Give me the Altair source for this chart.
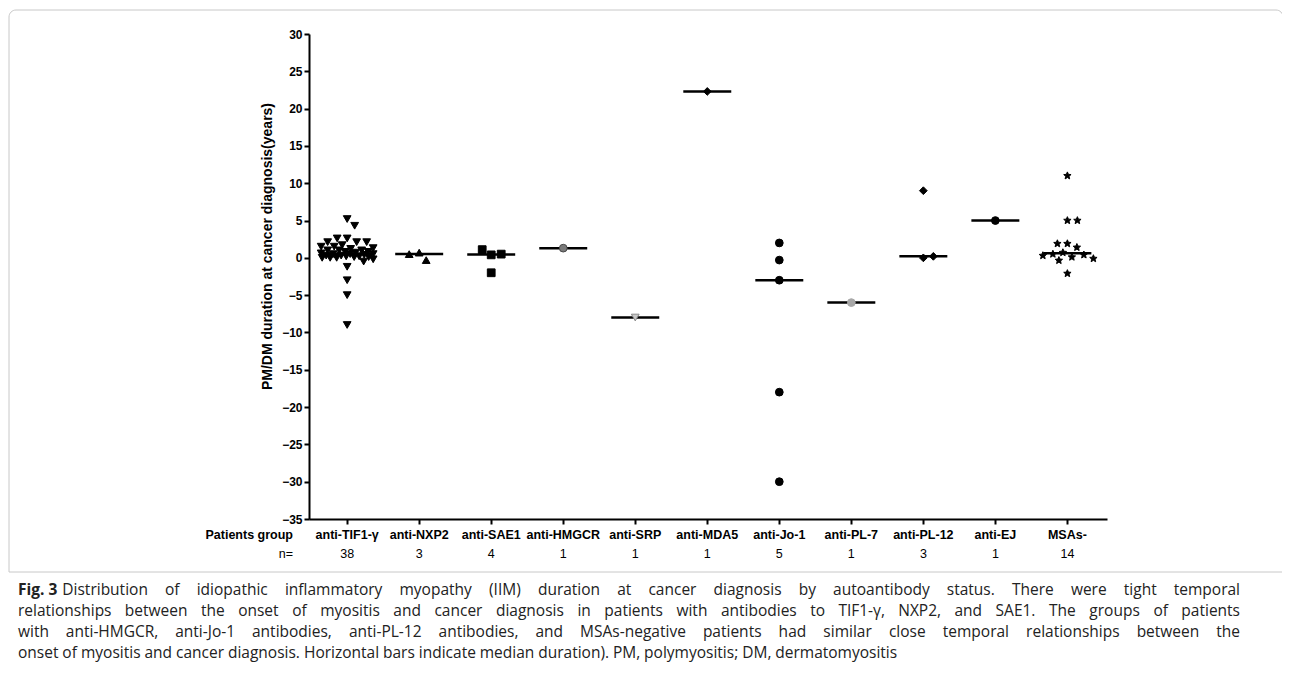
import math
import altair as alt
import numpy as np
import pandas as pd

# ---------------- data ----------------
groups = ["anti-TIF1-γ", "anti-NXP2", "anti-SAE1", "anti-HMGCR", "anti-SRP",
          "anti-MDA5", "anti-Jo-1", "anti-PL-7", "anti-PL-12", "anti-EJ", "MSAs-"]

tif1 = [5.2, 4.3, 2.6, 2.6, 2.1, 2.1, 2.1, 1.7, 1.5, 1.5, 1.3, 1.2, 1.0, 1.0, 1.0,
        0.8, 0.8, 0.7, 0.6, 0.5, 0.5, 0.5, 0.4, 0.3, 0.3, 0.2, 0.2, 0.1, 0.1,
        0.0, 0.0, 0.0, -0.2, -0.5, -1.2, -3.0, -5.0, -9.0]
nxp2 = [0.7, -0.3, 0.5]
sae1 = [0.4, 0.5, 1.1, -2.0]
hmgcr = [1.3]
srp = [-8.0]
mda5 = [22.3]
jo1 = [2.0, -0.3, -3.0, -18.0, -30.0]
pl7 = [-6.0]
pl12 = [9.0, 0.0, 0.2]
ej = [5.0]
msas = [11.0, 5.0, 5.0, 1.9, 1.9, 1.4, 0.7, 0.5, 0.4, 0.3, 0.1, -0.1, -0.35, -2.1]

series = [tif1, nxp2, sae1, hmgcr, srp, mda5, jo1, pl7, pl12, ej, msas]

y_ticks = list(range(-35, 31, 5))

caption_bold = "Fig. 3"
caption_lines = [
    "Distribution of idiopathic inflammatory myopathy (IIM) duration at cancer diagnosis by autoantibody status. There were tight temporal",
    "relationships between the onset of myositis and cancer diagnosis in patients with antibodies to TIF1-γ, NXP2, and SAE1. The groups of patients",
    "with anti-HMGCR, anti-Jo-1 antibodies, anti-PL-12 antibodies, and MSAs-negative patients had similar close temporal relationships between the",
    "onset of myositis and cancer diagnosis. Horizontal bars indicate median duration). PM, polymyositis; DM, dermatomyositis",
]

# ---------------- styles ----------------
def star_path(n=5, r_in=0.45):
    pts = []
    for k in range(2 * n):
        r = 1.0 if k % 2 == 0 else r_in
        a = -math.pi / 2 + k * math.pi / n
        pts.append((r * math.cos(a), r * math.sin(a)))
    return "M" + " L".join(f"{x:.3f},{y:.3f}" for x, y in pts) + " Z"

shapes = ["triangle-down", "triangle-up", "square", "circle", "triangle-down",
          "diamond", "circle", "circle", "diamond", "circle", star_path()]
fills = ["black", "black", "black", "#7a7a7a", "#c8c8c8", "black", "black",
         "#a8a8a8", "black", "black", "black"]
strokes = ["black", "black", "black", "#4a4a4a", "#8a8a8a", "black", "black",
           "#a8a8a8", "black", "black", "black"]
sizes = [60, 60, 60, 70, 80, 70, 75, 40, 60, 70, 95]

W, H = 798, 485
X_DOMAIN = [-0.53, 10.55]
Y_DOMAIN = [-35, 30]
px_per_unit_y = H / (Y_DOMAIN[1] - Y_DOMAIN[0])
px_per_unit_x = W / (X_DOMAIN[1] - X_DOMAIN[0])


def swarm_offsets(values, d=10.0, maxhalf=26.0):
    """Beeswarm-style horizontal spreading (pixels), computed from the data."""
    placed = []
    offs = []
    cands = np.arange(-maxhalf, maxhalf + 0.01, 0.5)
    flip = 1
    for v in values:
        y = v * px_per_unit_y
        if not placed:
            off = 0.0
        else:
            P = np.array(placed)
            dist = np.sqrt((cands[:, None] - P[None, :, 0]) ** 2 + (y - P[None, :, 1]) ** 2).min(axis=1)
            ok = cands[dist >= d]
            if len(ok):
                best = np.abs(ok).min()
                choices = ok[np.isclose(np.abs(ok), best)]
                off = float(choices.max() if flip > 0 else choices.min())
                if off != 0:
                    flip = -flip
            else:
                off = float(cands[np.argmax(dist)])
        placed.append((off, y))
        offs.append(off)
    return offs


rows = []
for i, (g, vals) in enumerate(zip(groups, series)):
    offs = swarm_offsets(vals)
    for v, o in zip(vals, offs):
        rows.append({"group": g, "idx": i, "value": v, "xpos": i + o / px_per_unit_x})
pts = pd.DataFrame(rows)

lab = pd.DataFrame({"idx": list(range(len(groups))), "label": groups,
                    "n": [str(len(s)) for s in series]})

xs = alt.Scale(domain=X_DOMAIN, nice=False, zero=False)
ys = alt.Scale(domain=Y_DOMAIN, nice=False, zero=False)

FONT = "Liberation Sans"

x_axis = alt.Axis(values=list(range(len(groups))), labels=False, title=None,
                  grid=False, tickSize=5, tickWidth=2, tickColor="black",
                  domainWidth=2, domainColor="black")
y_axis = alt.Axis(values=y_ticks, title="PM/DM duration at cancer diagnosis(years)",
                  grid=False, tickSize=5, tickWidth=2, tickColor="black",
                  domainWidth=2, domainColor="black",
                  labelFont=FONT, labelFontWeight="bold", labelFontSize=12,
                  labelColor="black", labelPadding=2,
                  titleFont=FONT, titleFontWeight="bold", titleFontSize=14,
                  titleColor="black", titleX=-42, titleY=212, titleAngle=-90,
                  titleAlign="center", titleBaseline="middle")

# ---------------- caption layout (justified lines) ----------------
CFONT = "Open Sans"
CSIZE = 15.5
CAP_L, CAP_R = -291, 931          # left / right text edges (plot coords)
CAP_Y0, CAP_DY = 561, 21          # first baseline, line step
SEP_Y = 538

_w = {' ': .26, 'a': .556, 'b': .613, 'c': .476, 'd': .613, 'e': .561, 'f': .339, 'g': .548,
      'h': .614, 'i': .253, 'j': .253, 'k': .525, 'l': .253, 'm': .93, 'n': .614, 'o': .604,
      'p': .613, 'q': .613, 'r': .408, 's': .477, 't': .353, 'u': .614, 'v': .501, 'w': .778,
      'x': .524, 'y': .502, 'z': .468, 'A': .633, 'B': .648, 'C': .631, 'D': .729, 'E': .556,
      'F': .516, 'G': .728, 'H': .738, 'I': .279, 'J': .267, 'K': .639, 'L': .537, 'M': .903,
      'N': .76, 'O': .781, 'P': .603, 'R': .609, 'S': .549, 'T': .556, 'U': .734, 'V': .598,
      'W': .903, 'Y': .557, '.': .266, ',': .244, '(': .295, ')': .295, '-': .322, ';': .266,
      'γ': .5}


def est(s):
    return sum(_w.get(ch, 0.57) for ch in s) * CSIZE


# calibrate against the natural rendered width of the unjustified last line (~879 px)
calib = 879.0 / est(caption_lines[-1])
space_w = _w[' '] * CSIZE * calib
bold_w = est(caption_bold) * calib * 1.08

word_rows = []
for li, line in enumerate(caption_lines):
    y = CAP_Y0 + li * CAP_DY
    start = CAP_L + (bold_w + space_w if li == 0 else 0)
    words = line.split(" ")
    ww = [est(w) * calib for w in words]
    last = li == len(caption_lines) - 1
    extra = 0.0 if last else (CAP_R - start - sum(ww) - space_w * (len(words) - 1)) / (len(words) - 1)
    x = start
    for k, (w, wd) in enumerate(zip(words, ww)):
        if k == 0 or last:
            word_rows.append({"t": w, "px": x, "py": y, "pos": "left"})
        elif k == len(words) - 1:
            word_rows.append({"t": w, "px": CAP_R, "py": y, "pos": "right"})
        else:
            word_rows.append({"t": w, "px": x + wd / 2, "py": y, "pos": "center"})
        x += wd + space_w + extra
cap_df = pd.DataFrame(word_rows)

# ---------------- layers ----------------
frame = alt.Chart(pd.DataFrame({"a": [0]})).mark_rect(
    fill="white", fillOpacity=0, stroke="#c8c8c8", strokeWidth=1,
    cornerRadiusTopLeft=7, cornerRadiusTopRight=7
).encode(x=alt.value(-300), x2=alt.value(974), y=alt.value(-24), y2=alt.value(SEP_Y))

med = alt.Chart(pts).transform_aggregate(
    med="median(value)", groupby=["idx"]
).transform_calculate(
    x1="datum.idx - 0.333", x2="datum.idx + 0.333"
).mark_rule(color="black", strokeWidth=2.5).encode(
    x=alt.X("x1:Q", scale=xs, axis=x_axis),
    x2="x2:Q",
    y=alt.Y("med:Q", scale=ys, axis=y_axis),
)

points = alt.Chart(pts).mark_point(filled=True, opacity=1, strokeWidth=1).encode(
    x=alt.X("xpos:Q", scale=xs, axis=x_axis),
    y=alt.Y("value:Q", scale=ys, axis=y_axis),
    shape=alt.Shape("group:N", scale=alt.Scale(domain=groups, range=shapes), legend=None),
    color=alt.Color("group:N", scale=alt.Scale(domain=groups, range=fills), legend=None),
    stroke=alt.Stroke("group:N", scale=alt.Scale(domain=groups, range=strokes), legend=None),
    size=alt.Size("group:N", scale=alt.Scale(domain=groups, range=sizes), legend=None),
)

grp_text = alt.Chart(lab).mark_text(font=FONT, fontWeight="bold", fontSize=12.5,
                                    baseline="middle", color="black").encode(
    x=alt.X("idx:Q", scale=xs, axis=x_axis), y=alt.value(501), text="label:N")
n_text = alt.Chart(lab).mark_text(font=FONT, fontSize=12.5, baseline="middle",
                                  color="black").encode(
    x=alt.X("idx:Q", scale=xs, axis=x_axis), y=alt.value(520), text="n:N")

left_lab = alt.Chart(pd.DataFrame({"t": ["Patients group"]})).mark_text(
    font=FONT, fontWeight="bold", fontSize=12.5, align="right", baseline="middle", color="black"
).encode(x=alt.value(-16), y=alt.value(501), text="t:N")
left_n = alt.Chart(pd.DataFrame({"t": ["n="]})).mark_text(
    font=FONT, fontSize=12.5, align="right", baseline="middle", color="black"
).encode(x=alt.value(-16), y=alt.value(520), text="t:N")

cap_bold = alt.Chart(pd.DataFrame({"t": [caption_bold]})).mark_text(
    font=CFONT, fontWeight="bold", fontSize=CSIZE, align="left", baseline="alphabetic", color="#222"
).encode(x=alt.value(CAP_L), y=alt.value(CAP_Y0), text="t:N")

cap_layers = []
for pos in ["left", "center", "right"]:
    cap_layers.append(
        alt.Chart(cap_df).transform_filter(f"datum.pos == '{pos}'").mark_text(
            font=CFONT, fontSize=CSIZE, align=pos, baseline="alphabetic", color="#222"
        ).encode(x=alt.X("px:Q", scale=None), y=alt.Y("py:Q", scale=None), text="t:N")
    )

chart = alt.layer(
    frame, med, points, grp_text, n_text, left_lab, left_n, cap_bold, *cap_layers
).properties(
    width=W, height=H, background="white",
    padding={"left": 301, "top": 26, "right": 175, "bottom": 154},
    autosize=alt.AutoSizeParams(type="none"),
).configure_view(stroke=None)

chart.save("out.html", embed_options={"renderer": "svg", "actions": False})
